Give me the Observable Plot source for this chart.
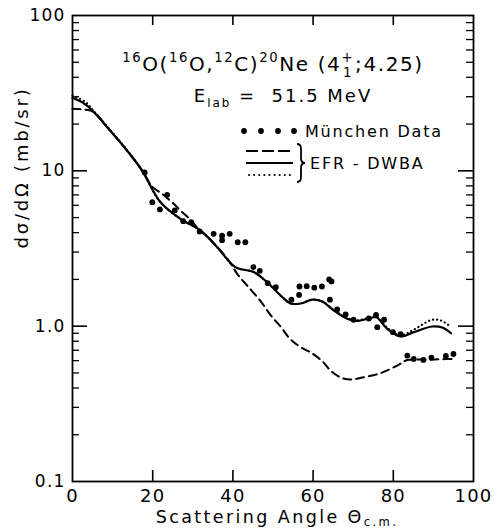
<!DOCTYPE html>
<html><head><meta charset="utf-8">
<script src="https://cdn.jsdelivr.net/npm/d3@7"></script>
<script src="https://cdn.jsdelivr.net/npm/@observablehq/plot@0.6"></script>
<style>body{margin:0;background:#fff;}</style>
</head><body><div id="chart"></div>
<script>
// München data (scattering angle, cross section mb/sr)
const dataAngle = [18.0,19.9,21.8,23.6,25.5,27.6,29.6,31.7,35.2,37.3,37.3,39.2,41.2,43.1,45.1,46.7,48.7,50.7,54.6,56.5,56.6,58.4,60.3,62.2,64.0,64.6,64.2,66.0,68.1,70.1,73.9,75.7,76.0,77.7,79.9,81.8,83.5,85.1,87.5,89.5,93.1,95.0];
const dataSigma = [9.76,6.28,5.64,7.01,5.56,4.74,4.67,4.07,3.93,3.82,3.58,3.93,3.47,3.47,2.40,2.27,1.89,1.78,1.48,1.59,1.80,1.81,1.77,1.80,2.00,1.94,1.48,1.28,1.19,1.10,1.12,1.18,0.985,1.10,0.915,0.89,0.647,0.615,0.606,0.628,0.643,0.662];

// EFR-DWBA solid curve
const solidAngle = [0,3,5.3,8.65,13.6,17.4,21.9,26.9,31.9,36.1,40.6,45.2,48.5,52.3,54.4,56.9,59.8,62.3,65.2,68.5,71.0,74.3,75.8,78.5,81.8,85.1,89.7,92.2,94.4];
const solidSigma = [29.5,27.0,23.9,19.1,13.5,10.0,6.3,4.91,4.13,3.22,2.40,2.23,1.92,1.54,1.40,1.40,1.48,1.44,1.26,1.115,1.08,1.13,1.14,0.962,0.858,0.915,0.995,0.98,0.90];

// EFR-DWBA dotted curve
const dottedAngle = [0,3,5.3,8.65,13.6,17.4,21.9,26.9,31.9,36.1,40.6,45.2,48.5,52.3,54.4,56.9,59.8,62.3,65.2,68.5,71.0,74.3,75.8,78.5,81.8,85.1,89.7,92.2,94.4];
const dottedSigma = [30.5,28.0,24.3,19.3,13.6,10.0,6.3,4.91,4.13,3.22,2.40,2.23,1.92,1.54,1.40,1.40,1.48,1.44,1.27,1.13,1.09,1.14,1.15,0.975,0.875,0.95,1.10,1.08,0.985];

// EFR-DWBA dashed curve
const dashedAngle = [0,3,5.3,8.65,13.6,17.4,19.9,22.4,24.9,26.9,29.4,31.5,34.0,36.1,38.5,41.2,43.6,46.9,49.5,52.0,54.2,56.9,59.5,62.3,64.5,67.3,69.7,72.6,76.8,81.0,83.5,88.5,91.5,95.1];
const dashedSigma = [25.1,24.8,23.9,19.1,13.5,10.0,7.9,7.1,6.25,5.55,4.85,4.2,3.7,3.22,2.75,2.15,1.82,1.45,1.17,0.985,0.83,0.732,0.674,0.595,0.513,0.463,0.454,0.469,0.498,0.558,0.605,0.608,0.612,0.616];

// ticks
const xTicks = [0,20,40,60,80,100];
const xInnerTicks = [20,40,60,80];
const yTicks = [0.1,1,10,100];
const yTickLabels = ["0.1","1.0","10","100"];
const yMajorInner = [1,10];
const yMinor = [0.2,0.3,0.4,0.5,0.6,0.7,0.8,0.9,2,3,4,5,6,7,8,9,20,30,40,50,60,70,80,90];

// texts
const titleText = "16O(16O,12C)20Ne(4+1;4.25)";
const energyText = "Elab = 51.5 MeV";
const xLabel = "Scattering Angle Θc.m.";
const yLabel = "dσ/dΩ (mb/sr)";
const legendData = "München Data";
const legendCalc = "EFR - DWBA";

const pts = dataAngle.map((a,i)=>({a, s:dataSigma[i]}));
const solid = solidAngle.map((a,i)=>({a, s:solidSigma[i]}));
const dotted = dottedAngle.map((a,i)=>({a, s:dottedSigma[i]}));
const dashed = dashedAngle.map((a,i)=>({a, s:dashedSigma[i]}));

const FW = 494-72-21, FH = 531-15-50;
const plot = Plot.plot({
  width: 494, height: 531,
  marginLeft: 72, marginRight: 21, marginTop: 15, marginBottom: 50,
  style: {fontFamily: "DejaVu Sans", fontSize: "18px", color: "#000", background: "#fff"},
  x: {domain: [0,100]},
  y: {type: "log", domain: [0.1,100]},
  marks: [
    Plot.axisX({ticks: xTicks, tickSize: 0, tickPadding: 8, label: null, tickFormat: d => String(d), fontSize: 18}),
    Plot.axisY({ticks: yTicks, tickSize: 0, tickPadding: 7, label: null, tickFormat: d => yTickLabels[yTicks.indexOf(d)], fontSize: 17}),
    Plot.ruleX(xInnerTicks, {x: d=>d, insetTop: FH-11, stroke: "#000", strokeWidth: 1.6}),
    Plot.ruleX(xInnerTicks, {x: d=>d, insetBottom: FH-10, stroke: "#000", strokeWidth: 1.6}),
    Plot.ruleY(yMajorInner, {y: d=>d, insetRight: FW-15, stroke: "#000", strokeWidth: 1.6}),
    Plot.ruleY(yMajorInner, {y: d=>d, insetLeft: FW-15, stroke: "#000", strokeWidth: 1.6}),
    Plot.ruleY(yMinor, {y: d=>d, insetRight: FW-7, stroke: "#000", strokeWidth: 1.3}),
    Plot.ruleY(yMinor, {y: d=>d, insetLeft: FW-7, stroke: "#000", strokeWidth: 1.3}),
    Plot.frame({stroke: "#000", strokeWidth: 1.8}),
    Plot.line(dashed, {x:"a", y:"s", curve:"catmull-rom", stroke:"#000", strokeWidth: 2, strokeDasharray: "8,5"}),
    Plot.line(dotted, {x:"a", y:"s", curve:"catmull-rom", stroke:"#000", strokeWidth: 2.2, strokeDasharray: "0.1,4", strokeLinecap: "round"}),
    Plot.line(solid, {x:"a", y:"s", curve:"catmull-rom", stroke:"#000", strokeWidth: 2.2}),
    Plot.dot(pts, {x:"a", y:"s", r: 2.9, fill:"#000", stroke: "none"}),
    Plot.text([titleText], {text: d=>d, frameAnchor: "top", dy: 55, lineAnchor: "bottom", fontSize: 20}),
    Plot.text([energyText], {text: d=>d, frameAnchor: "top", dx: 10, dy: 86, lineAnchor: "bottom", fontSize: 18}),
    Plot.text([xLabel], {text: d=>d, frameAnchor: "bottom", dx: 4, dy: 41, lineAnchor: "bottom", fontSize: 17.5}),
    Plot.text([yLabel], {text: d=>d, frameAnchor: "left", dx: -50, rotate: -90, fontSize: 18})
  ]
});
document.getElementById("chart").appendChild(plot);

const NS = "http://www.w3.org/2000/svg";
function rich(placeholder, parts, ls, subShift = 0.3) {
  const el = Array.from(plot.querySelectorAll("text")).find(t => t.textContent === placeholder);
  if (!el) return;
  el.style.letterSpacing = ls + "px";
  if (!parts) return;
  const fs = parseFloat(getComputedStyle(el).fontSize);
  el.textContent = "";
  let shift = 0;
  for (const [str, mode, dx] of parts) {
    const ts = document.createElementNS(NS, "tspan");
    const target = mode === "sup" ? -0.42*fs : mode === "sub" ? subShift*fs : 0;
    ts.setAttribute("dy", target - shift); shift = target;
    if (mode) ts.setAttribute("font-size", 0.66*fs);
    if (dx) ts.setAttribute("dx", dx);
    ts.textContent = str;
    el.appendChild(ts);
  }
}
rich(titleText, [["16","sup"],["O(",""],["16","sup"],["O,",""],["12","sup"],["C)",""],["20","sup"],["Ne (",""],["4",""],["+","sup"],["1","sub",-11],[";4.25)","",2]], 1.6);
rich(energyText, [["E",""],["lab","sub"],[" =  51.5 MeV",""]], 2);
rich(xLabel, [["Scattering Angle Θ",""],["c.m.","sub"]], 2.4, 0.18);
rich(yLabel, null, 2.8);
Array.from(plot.querySelectorAll('g[aria-label="x-axis tick label"] text, g[aria-label="y-axis tick label"] text')).forEach(t => t.style.letterSpacing = "1.2px");

// legend
const lg = d3.select(plot).append("g").attr("stroke-linecap","butt").attr("text-anchor","start");
[244,261,278,294].forEach(cx => lg.append("circle").attr("cx",cx).attr("cy",131).attr("r",2.9).attr("fill","#000"));
lg.append("text").attr("x",305).attr("y",131).attr("dy","0.35em").attr("text-anchor","start").attr("font-size",16).attr("font-family","DejaVu Sans").style("letter-spacing","1.8px").text(legendData);
lg.append("line").attr("x1",246).attr("x2",293).attr("y1",151).attr("y2",151).attr("stroke","#000").attr("stroke-width",2).attr("stroke-dasharray","12,4");
lg.append("line").attr("x1",246).attr("x2",293).attr("y1",163).attr("y2",163).attr("stroke","#000").attr("stroke-width",2.2);
lg.append("line").attr("x1",249).attr("x2",293).attr("y1",175).attr("y2",175).attr("stroke","#000").attr("stroke-width",2).attr("stroke-dasharray","0.1,5").attr("stroke-linecap","round");
lg.append("path").attr("d","M297,144 Q301,144 301,149 L301,158 Q301,163 305,163 Q301,163 301,168 L301,177 Q301,182 297,182").attr("fill","none").attr("stroke","#000").attr("stroke-width",1.8);
lg.append("text").attr("x",310).attr("y",163).attr("dy","0.35em").attr("text-anchor","start").attr("font-size",16).attr("font-family","DejaVu Sans").style("letter-spacing","1.8px").text(legendCalc);
</script>
</body></html>
